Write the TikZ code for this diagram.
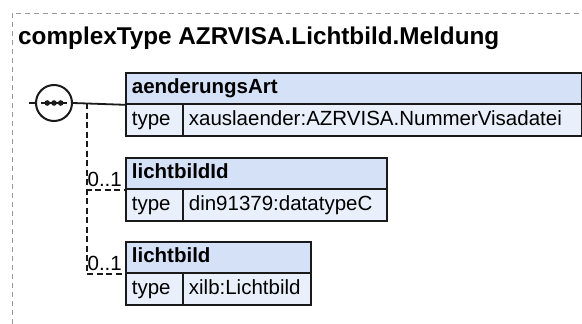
\documentclass[tikz,border=0pt]{standalone}
\usepackage{fontspec}
\usetikzlibrary{calc}
\setmainfont{Liberation Sans}
\definecolor{hdrblue}{HTML}{D5E1F7}
\definecolor{typeblue}{HTML}{EAF0FB}
\definecolor{frame}{HTML}{9A9A9A}
\definecolor{ink}{HTML}{1A1A1A}
\begin{document}
\begin{tikzpicture}[x=1pt,y=-1pt,
  txt/.style={font=\fontsize{20.5}{24}\selectfont},
  hdr/.style={txt,font=\fontsize{20.5}{24}\selectfont\bfseries,draw=ink,line width=1.8pt,fill=hdrblue,
    anchor=north west,minimum height=31,inner xsep=6,inner ysep=0,align=left,
    text height=15,text depth=4},
  cell/.style={txt,draw=ink,line width=1.8pt,fill=typeblue,anchor=north west,
    minimum height=32,inner xsep=6,inner ysep=0,align=left,text height=15,text depth=4},
  conn/.style={ink,line width=1.8pt},
  dconn/.style={ink,line width=1.8pt,dash pattern=on 6 off 3.5},
  card/.style={txt,anchor=base east,inner sep=0}
]
\useasboundingbox (0,0) rectangle (582,324);
\fill[white] (0,0) rectangle (582,324);
% outer frame
\coordinate (fa) at (12,324);
\coordinate (fb) at (12,13);
\coordinate (fc) at (582,13);
\draw[frame,line width=1pt,dash pattern=on 5 off 4] (fa) -- (fb) -- (fc);
% title
\node[anchor=base west,inner sep=0,font=\fontsize{24.3}{28}\selectfont\bfseries] (title) at (18,44) {complexType AZRVISA.Lichtbild.Meldung};
% element 1
\node[hdr,text width=444] (h1) at (125,72) {aenderungsArt};
\node[cell,text width=45] (t1k) at (125,103) {type};
\node[cell,text width=387] (t1v) at (182,103) {xauslaender:AZRVISA.NummerVisadatei};
% element 2
\node[hdr,text width=249] (h2) at (125,157) {lichtbildId};
\node[cell,text width=45] (t2k) at (125,188) {type};
\node[cell,text width=192] (t2v) at (182,188) {din91379:datatypeC};
% element 3
\node[hdr,text width=173] (h3) at (125,241) {lichtbild};
\node[cell,text width=45] (t3k) at (125,272) {type};
\node[cell,text width=116] (t3v) at (182,272) {xilb:Lichtbild};
% sequence compositor
\node[circle,draw=ink,line width=2pt,fill=white,minimum size=36,inner sep=0] (seq) at (54,103) {};
\coordinate (stub) at (29,103);
\coordinate (il) at (41,103);
\coordinate (ir) at (67,103);
\draw[conn] (stub) -- (seq.west);
\draw[conn] (il) -- (ir);
\foreach \dx in {-6.7,0,6.7} \fill[ink] ($(seq.center)+(\dx,0)$) circle (2.8);
\draw[conn] (seq.east) -- (h1.south west);
% optional children
\coordinate (jn) at (87,103);
\draw[dconn] (jn) |- (h2.south west);
\draw[dconn] (jn) |- (h3.south west);
\node[card] (c2) at (122,186) {0..1};
\node[card] (c3) at (122,270) {0..1};
\end{tikzpicture}
\end{document}
